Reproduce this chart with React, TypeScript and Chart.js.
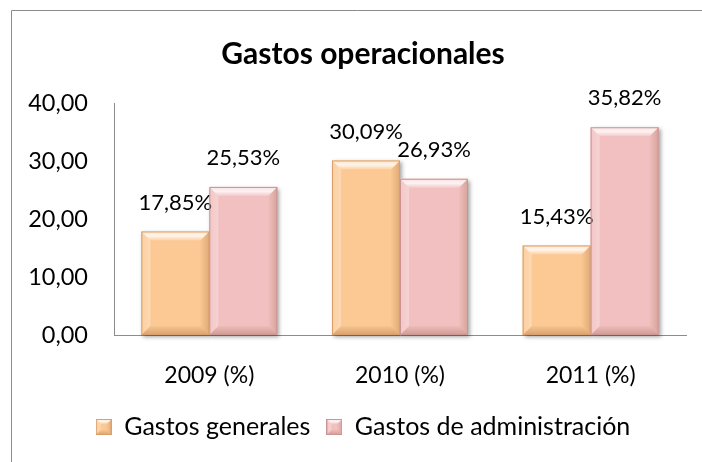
import React, { useEffect, useRef } from 'react';
import { Chart, registerables } from 'chart.js';

Chart.register(...registerables);

const chartTitle = 'Gastos operacionales';
const categories = ['2009 (%)', '2010 (%)', '2011 (%)'];
const seriesNames = ['Gastos generales', 'Gastos de administración'];
const gastosGenerales = [17.85, 30.09, 15.43];
const gastosAdministracion = [25.53, 26.93, 35.82];
const yMin = 0;
const yMax = 40;
const yStep = 10;

const FONT = 'Lato, "Open Sans", sans-serif';

const palettes = [
  { base: '#FCC994', edge: '#D9A06C' },
  { base: '#F2C0C0', edge: '#C99595' },
];

const fmt = (v: number) => v.toFixed(2).replace('.', ',');

const drawBevel = (ctx: CanvasRenderingContext2D, l: number, t: number, r: number, b: number, d: number, edge: string) => {
  let g = ctx.createLinearGradient(0, t, 0, t + d);
  g.addColorStop(0, 'rgba(255,255,255,0.55)');
  g.addColorStop(0.5, 'rgba(255,255,255,0.8)');
  g.addColorStop(1, 'rgba(255,255,255,0.15)');
  ctx.fillStyle = g;
  ctx.beginPath();
  ctx.moveTo(l, t); ctx.lineTo(r, t); ctx.lineTo(r - d, t + d); ctx.lineTo(l + d, t + d); ctx.closePath();
  ctx.fill();
  g = ctx.createLinearGradient(l, 0, l + d, 0);
  g.addColorStop(0, 'rgba(255,255,255,0.1)');
  g.addColorStop(1, 'rgba(255,255,255,0.3)');
  ctx.fillStyle = g;
  ctx.beginPath();
  ctx.moveTo(l, t); ctx.lineTo(l + d, t + d); ctx.lineTo(l + d, b - d); ctx.lineTo(l, b); ctx.closePath();
  ctx.fill();
  g = ctx.createLinearGradient(r - d, 0, r, 0);
  g.addColorStop(0, 'rgba(120,60,20,0.02)');
  g.addColorStop(1, 'rgba(120,60,20,0.22)');
  ctx.fillStyle = g;
  ctx.beginPath();
  ctx.moveTo(r, t); ctx.lineTo(r, b); ctx.lineTo(r - d, b - d); ctx.lineTo(r - d, t + d); ctx.closePath();
  ctx.fill();
  g = ctx.createLinearGradient(0, b - d, 0, b);
  g.addColorStop(0, 'rgba(120,60,20,0.04)');
  g.addColorStop(1, 'rgba(120,60,20,0.28)');
  ctx.fillStyle = g;
  ctx.beginPath();
  ctx.moveTo(l, b); ctx.lineTo(r, b); ctx.lineTo(r - d, b - d); ctx.lineTo(l + d, b - d); ctx.closePath();
  ctx.fill();
  ctx.strokeStyle = edge;
  ctx.lineWidth = 1;
  ctx.strokeRect(l + 0.5, t + 0.5, r - l - 1, b - t - 1);
};

const makeMarker = (i: number) => {
  const c = document.createElement('canvas');
  c.width = 16;
  c.height = 16;
  const ctx = c.getContext('2d') as CanvasRenderingContext2D;
  ctx.fillStyle = palettes[i].base;
  ctx.fillRect(0, 0, 16, 16);
  drawBevel(ctx, 0, 0, 16, 16, 5, palettes[i].edge);
  return c;
};

const framePlugin = {
  id: 'frame',
  beforeDraw(chart: any) {
    const ctx = chart.ctx;
    ctx.save();
    ctx.fillStyle = '#ffffff';
    ctx.fillRect(0, 0, chart.width, chart.height);
    ctx.strokeStyle = '#8c8c8c';
    ctx.lineWidth = 1;
    ctx.beginPath();
    ctx.moveTo(11.5, chart.height + 2);
    ctx.lineTo(11.5, 10.5);
    ctx.lineTo(chart.width + 2, 10.5);
    ctx.stroke();
    ctx.restore();
  },
};

const barRect = (bar: any) => {
  const p = bar.getProps(['x', 'y', 'base', 'width'], true);
  return { l: p.x - p.width / 2, r: p.x + p.width / 2, t: Math.min(p.y, p.base), b: Math.max(p.y, p.base), x: p.x };
};

const bevelPlugin = {
  id: 'bevel',
  beforeDatasetsDraw(chart: any) {
    const ctx = chart.ctx;
    ctx.save();
    chart.data.datasets.forEach((_ds: any, i: number) => {
      const meta = chart.getDatasetMeta(i);
      meta.data.forEach((bar: any) => {
        const { l, r, t, b } = barRect(bar);
        ctx.shadowColor = 'rgba(0,0,0,0.35)';
        ctx.shadowBlur = 4;
        ctx.shadowOffsetX = 2;
        ctx.shadowOffsetY = 2;
        ctx.fillStyle = palettes[i].base;
        ctx.fillRect(l, t, r - l, b - t);
      });
    });
    ctx.restore();
  },
  afterDatasetsDraw(chart: any) {
    const ctx = chart.ctx;
    ctx.save();
    chart.data.datasets.forEach((ds: any, i: number) => {
      const meta = chart.getDatasetMeta(i);
      meta.data.forEach((bar: any, j: number) => {
        const { l, r, t, b, x } = barRect(bar);
        drawBevel(ctx, l, t, r, b, 9, palettes[i].edge);
        ctx.fillStyle = '#000000';
        ctx.font = `22px ${FONT}`;
        ctx.textAlign = 'center';
        ctx.textBaseline = 'middle';
        ctx.fillText(fmt(ds.data[j]) + '%', x, t - 29);
      });
    });
    ctx.restore();
  },
};

export default function App() {
  const ref = useRef<HTMLCanvasElement | null>(null);
  useEffect(() => {
    if (!ref.current) return;
    const markers = [makeMarker(0), makeMarker(1)];
    const chart = new Chart(ref.current, {
      type: 'bar',
      data: {
        labels: categories,
        datasets: [
          {
            label: seriesNames[0],
            data: gastosGenerales,
            backgroundColor: palettes[0].base,
            borderWidth: 0,
            categoryPercentage: 0.713,
            barPercentage: 1,
          },
          {
            label: seriesNames[1],
            data: gastosAdministracion,
            backgroundColor: palettes[1].base,
            borderWidth: 0,
            categoryPercentage: 0.713,
            barPercentage: 1,
          },
        ],
      },
      options: {
        animation: false,
        responsive: false,
        devicePixelRatio: 1,
        layout: { padding: { left: 24, right: 0, top: 0, bottom: 12.5 } },
        plugins: {
          title: {
            display: true,
            text: chartTitle,
            color: '#000000',
            font: { family: FONT, size: 30, weight: 'bold', lineHeight: 1.2 },
            padding: { top: 36, bottom: 31 },
          },
          legend: {
            position: 'bottom',
            labels: {
              color: '#000000',
              font: { family: FONT, size: 25 },
              boxWidth: 16,
              boxHeight: 16,
              padding: 16,
              usePointStyle: true,
              generateLabels: (ch: any) => {
                const items = (Chart.defaults.plugins.legend.labels as any).generateLabels(ch);
                return items.map((it: any, k: number) => ({ ...it, pointStyle: markers[k] }));
              },
            },
          },
          tooltip: { enabled: false },
        },
        scales: {
          x: {
            grid: { display: false, drawTicks: false },
            border: { display: true, color: '#8c8c8c', width: 1 },
            ticks: { color: '#000000', font: { family: FONT, size: 23 }, padding: 27 },
            afterFit: (s: any) => { s.height = 63.5; },
          },
          y: {
            min: yMin,
            max: yMax,
            grid: { display: false, drawTicks: false },
            border: { display: true, color: '#8c8c8c', width: 1 },
            ticks: {
              stepSize: yStep,
              color: '#000000',
              font: { family: FONT, size: 23.5 },
              padding: 26,
              callback: (v: any) => fmt(Number(v)),
            },
            afterFit: (s: any) => { s.width = 90; },
          },
          y2: {
            position: 'right',
            display: true,
            grid: { display: false, drawTicks: false },
            border: { display: false },
            ticks: { display: false },
            afterFit: (s: any) => { s.width = 16; },
          },
        },
      },
      plugins: [framePlugin, bevelPlugin],
    });
    return () => chart.destroy();
  }, []);
  return (
    <div style={{ position: 'fixed', left: 0, top: 0, width: 702, height: 462 }}>
      <canvas ref={ref} width={702} height={462} style={{ display: 'block', width: 702, height: 462 }} />
    </div>
  );
}
